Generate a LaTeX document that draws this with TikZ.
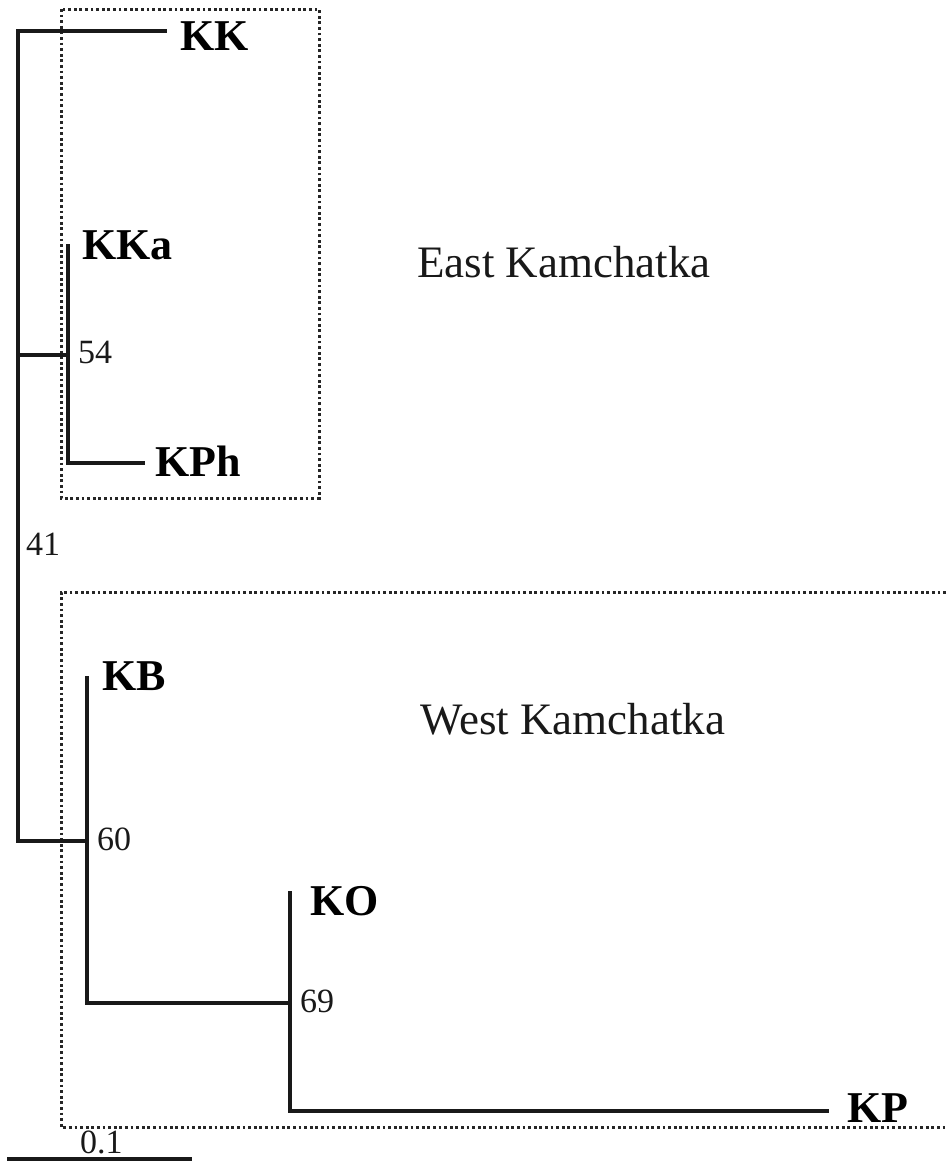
\documentclass[tikz,border=0pt]{standalone}
\usepackage{fontspec}
\setmainfont{Liberation Serif}
\begin{document}
\begin{tikzpicture}[x=1pt,y=-1pt,
  branch/.style={line width=3.2pt,line cap=rect,black!90},
  regionbox/.style={line width=3pt,dash pattern=on 2.8pt off 2.8pt,black!85},
  leaflabel/.style={anchor=base west,inner sep=0pt,font=\fontsize{44}{50}\selectfont\bfseries},
  regionlabel/.style={anchor=base west,inner sep=0pt,font=\fontsize{45}{52}\selectfont,black!90},
  support/.style={anchor=base west,inner sep=0pt,font=\fontsize{34}{40}\selectfont,black!90}]
\useasboundingbox (0,0) rectangle (946,1162);
% region boxes
\draw[regionbox] (61,9) rectangle (319,498);
\draw[regionbox] (946,592) -- (61,592) -- (61,1127) -- (946,1127);
% tree coordinates
\coordinate (rootTop) at (18,31);
\coordinate (kkTip) at (165,31);
\coordinate (rootE) at (18,355);
\coordinate (n54) at (68,355);
\coordinate (kkaTip) at (68,246);
\coordinate (n54low) at (68,463);
\coordinate (kphTip) at (143,463);
\coordinate (rootBot) at (18,841);
\coordinate (n60) at (87,841);
\coordinate (kbTip) at (87,678);
\coordinate (n60low) at (87,1003);
\coordinate (n69) at (290,1003);
\coordinate (koTip) at (290,893);
\coordinate (n69low) at (290,1111);
\coordinate (kpTip) at (827,1111);
\coordinate (barL) at (7,1159);
\coordinate (barR) at (192,1159);
% branches
\draw[branch] (kkTip) -- (rootTop) -- (rootBot) -- (n60);
\draw[branch] (rootE) -- (n54);
\draw[branch] (kkaTip) -- (n54low) -- (kphTip);
\draw[branch] (kbTip) -- (n60low) -- (n69);
\draw[branch] (koTip) -- (n69low) -- (kpTip);
\draw[branch,line cap=butt] (barL) -- (barR);
% leaf labels
\node[leaflabel] (KK) at (180,50) {KK};
\node[leaflabel] (KKa) at (82,259) {KKa};
\node[leaflabel] (KPh) at (155,476) {KPh};
\node[leaflabel] (KB) at (102,690) {KB};
\node[leaflabel] (KO) at (310,915) {KO};
\node[leaflabel] (KP) at (847,1122) {KP};
% region labels
\node[regionlabel] (east) at (417,277) {East Kamchatka};
\node[regionlabel] (west) at (420,734) {West Kamchatka};
% support values
\node[support] (s54) at (78,363) {54};
\node[support] (s41) at (26,555) {41};
\node[support] (s60) at (97,850) {60};
\node[support] (s69) at (300,1012) {69};
\node[support] (scale) at (80,1153) {0.1};
\end{tikzpicture}
\end{document}
